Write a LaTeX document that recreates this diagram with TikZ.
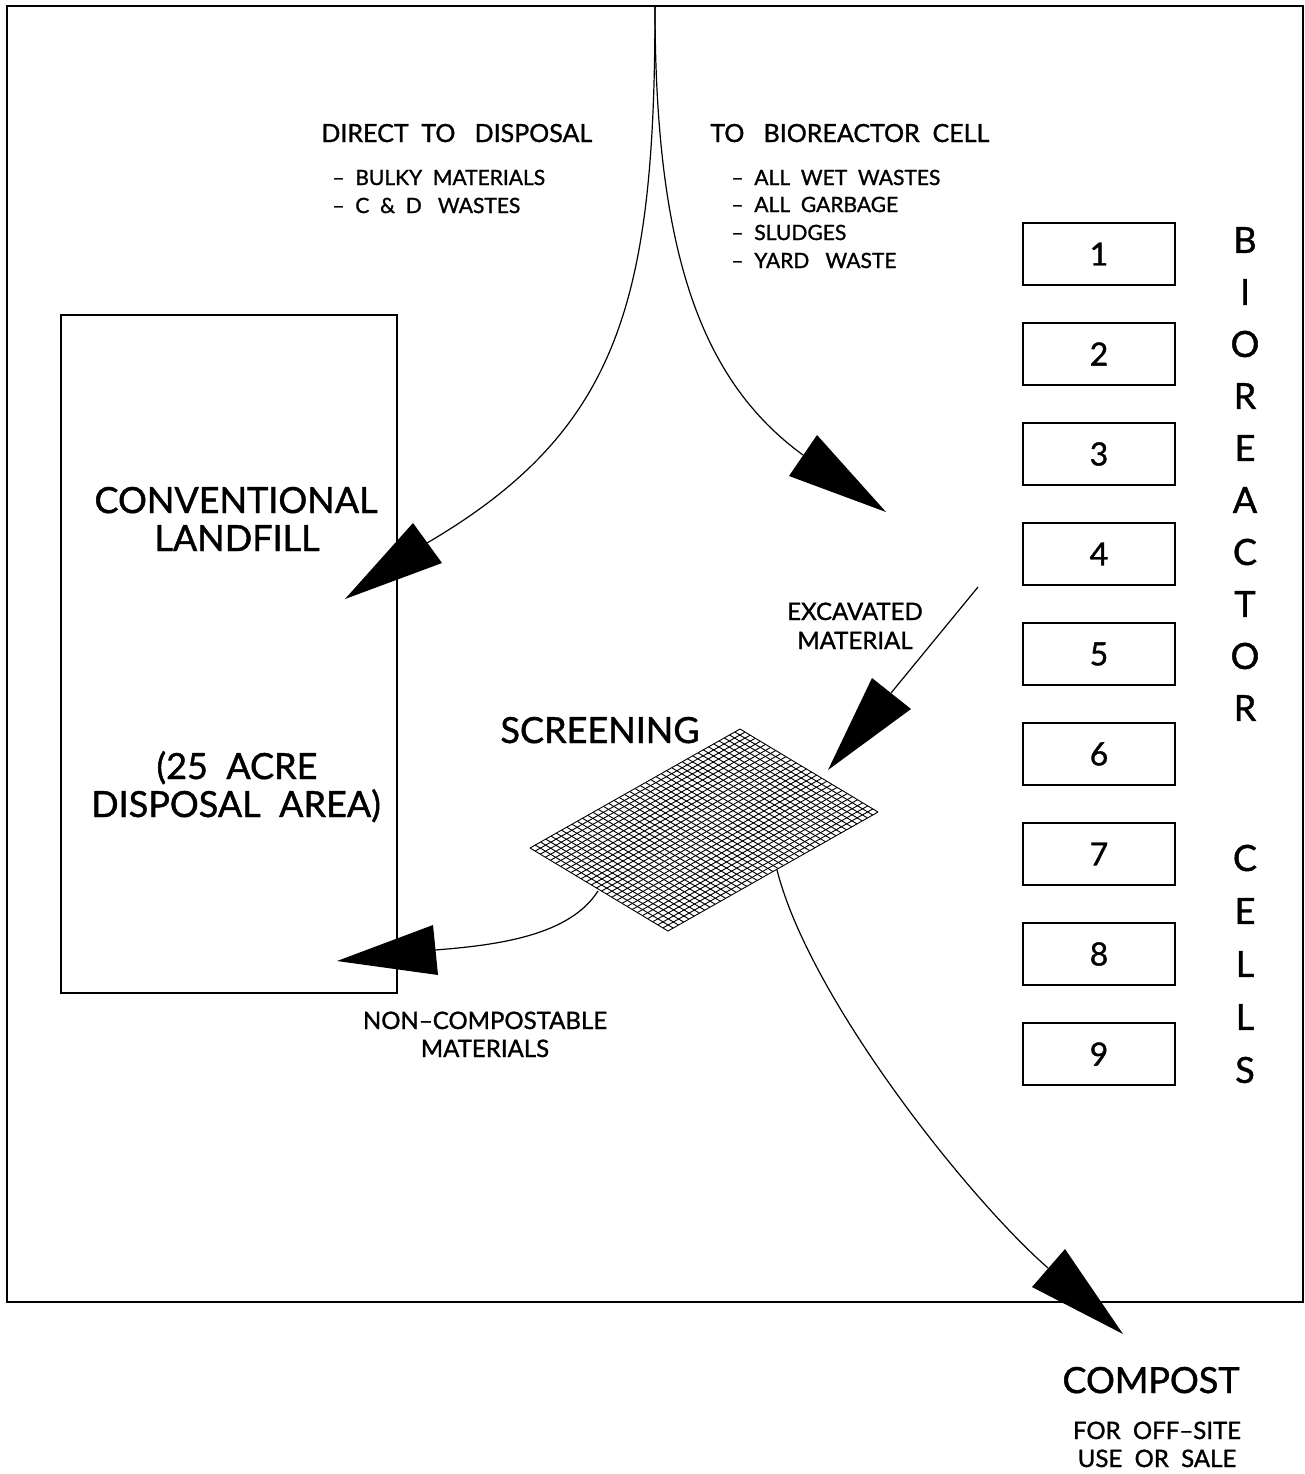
\documentclass[tikz,border=0pt]{standalone}
\usepackage{fontspec}
\setmainfont{Lato}[FakeBold=1.2]
\begin{document}
\begin{tikzpicture}[x=0.5pt,y=-0.5pt,
  line/.style={line width=0.6pt},
  headtxt/.style={font=\fontsize{12.5}{14}\selectfont, anchor=base west, inner sep=0pt},
  listtxt/.style={font=\fontsize{10.5}{12}\selectfont, anchor=base west, inner sep=0pt, align=left},
  bigtxt/.style={font=\fontsize{18}{20}\selectfont, anchor=base, inner sep=0pt},
  midtxt/.style={font=\fontsize{12}{14}\selectfont, anchor=base, inner sep=0pt},
  cellbox/.style={draw, line width=0.6pt, minimum width=76pt, minimum height=31pt, inner sep=0pt, font=\fontsize{16}{18}\selectfont},
  vletter/.style={font=\fontsize{18}{20}\selectfont, inner sep=0pt},
  headfill/.style={fill=black}
]
\useasboundingbox (0,0) rectangle (1305,1474);
% frame
\draw[line] (7,6) rectangle (1303,1302);
% landfill
\node[draw, line width=0.6pt, minimum width=168pt, minimum height=339pt, inner sep=0pt] (landfill) at (229,654) {};
\node[bigtxt] (conv) at (236,513) {CONVENTIONAL};
\node[bigtxt] (land) at (237,551) {LANDFILL};
\node[bigtxt] (acre) at (237,779) {(25\ \ ACRE};
\node[bigtxt] (darea) at (236,817) {DISPOSAL\ \ AREA)};
% headers
\node[headtxt] (direct) at (321,142) {DIRECT\ \ TO\ \ \ DISPOSAL};
\node[listtxt] (l1) at (332,185) {–\ \ BULKY\ \ MATERIALS};
\node[listtxt] (l2) at (332,213) {–\ \ C\ \ \&\ \ D\ \ \ WASTES};
\node[headtxt] (tobio) at (710,142) {TO\ \ \ BIOREACTOR\ \ CELL};
\node[listtxt] (r1) at (731,185) {–\ \ ALL\ \ WET\ \ WASTES};
\node[listtxt] (r2) at (731,212) {–\ \ ALL\ \ GARBAGE};
\node[listtxt] (r3) at (731,240) {–\ \ SLUDGES};
\node[listtxt] (r4) at (731,268) {–\ \ YARD\ \ \ WASTE};
% cells
\foreach \i in {1,...,9} {
  \node[cellbox] (c\i) at (1099,{254+100*(\i-1)}) {\i};
}
% vertical labels
\foreach \l [count=\k from 0] in {B,I,O,R,E,A,C,T,O,R} {
  \node[vletter] (bio\k) at (1245,{240+52*\k}) {\l};
}
\foreach \l [count=\k from 0] in {C,E,L,L,S} {
  \node[vletter] (cel\k) at (1245,{858+53*\k}) {\l};
}
% other labels
\node[midtxt] (exc1) at (855,620) {EXCAVATED};
\node[midtxt] (exc2) at (855,649) {MATERIAL};
\node[bigtxt] (scr) at (600,743) {SCREENING};
\node[midtxt] (nc1) at (485,1029) {NON–COMPOSTABLE};
\node[midtxt] (nc2) at (485,1057) {MATERIALS};
\node[bigtxt] (comp) at (1151,1393) {COMPOST};
\node[midtxt] (off1) at (1157,1439) {FOR\ \ OFF–SITE};
\node[midtxt] (off2) at (1157,1467) {USE\ \ OR\ \ SALE};
% screening grid
\foreach \i in {0,...,40} {
  \draw[line width=0.45pt] ({530+\i*210/40},{848-\i*119/40}) -- ++(138,83);
}
\foreach \j in {0,...,27} {
  \draw[line width=0.45pt] ({530+\j*138/27},{848+\j*83/27}) -- ++(210,-119);
}
% source
\coordinate (src) at (655,6);
% arrow 1: to landfill
\coordinate (a1b1) at (413,523); \coordinate (a1b2) at (442,563); \coordinate (a1t) at (345,599);
\coordinate (a1m) at (427,543);
\draw[line] (src) .. controls (655,300) and (620,430) .. (a1m);
\fill[headfill] (a1b1) -- (a1b2) -- (a1t) -- cycle;
% arrow 2: to bioreactor
\coordinate (a2b1) at (817,435); \coordinate (a2b2) at (789,476); \coordinate (a2t) at (886,512);
\coordinate (a2m) at (803,455);
\draw[line] (src) .. controls (655,250) and (700,380) .. (a2m);
\fill[headfill] (a2b1) -- (a2b2) -- (a2t) -- cycle;
% arrow 3: excavated
\coordinate (a3s) at (978,587);
\coordinate (a3b1) at (872,678); \coordinate (a3b2) at (911,709); \coordinate (a3t) at (828,770);
\coordinate (a3m) at (891,693);
\draw[line] (a3s) -- (a3m);
\fill[headfill] (a3b1) -- (a3b2) -- (a3t) -- cycle;
% arrow 4: non-compostable
\coordinate (a4s) at (598,891);
\coordinate (a4b1) at (433,925); \coordinate (a4b2) at (438,975); \coordinate (a4t) at (337,961);
\coordinate (a4m) at (435,950);
\draw[line] (a4s) .. controls (570,935) and (500,945) .. (a4m);
\fill[headfill] (a4b1) -- (a4b2) -- (a4t) -- cycle;
% arrow 5: compost
\coordinate (a5s) at (777,870);
\coordinate (a5b1) at (1065,1249); \coordinate (a5b2) at (1032,1287); \coordinate (a5t) at (1123,1334);
\coordinate (a5m) at (1048,1268);
\draw[line] (a5s) .. controls (810,1000) and (970,1200) .. (a5m);
\fill[headfill] (a5b1) -- (a5b2) -- (a5t) -- cycle;
\end{tikzpicture}
\end{document}
